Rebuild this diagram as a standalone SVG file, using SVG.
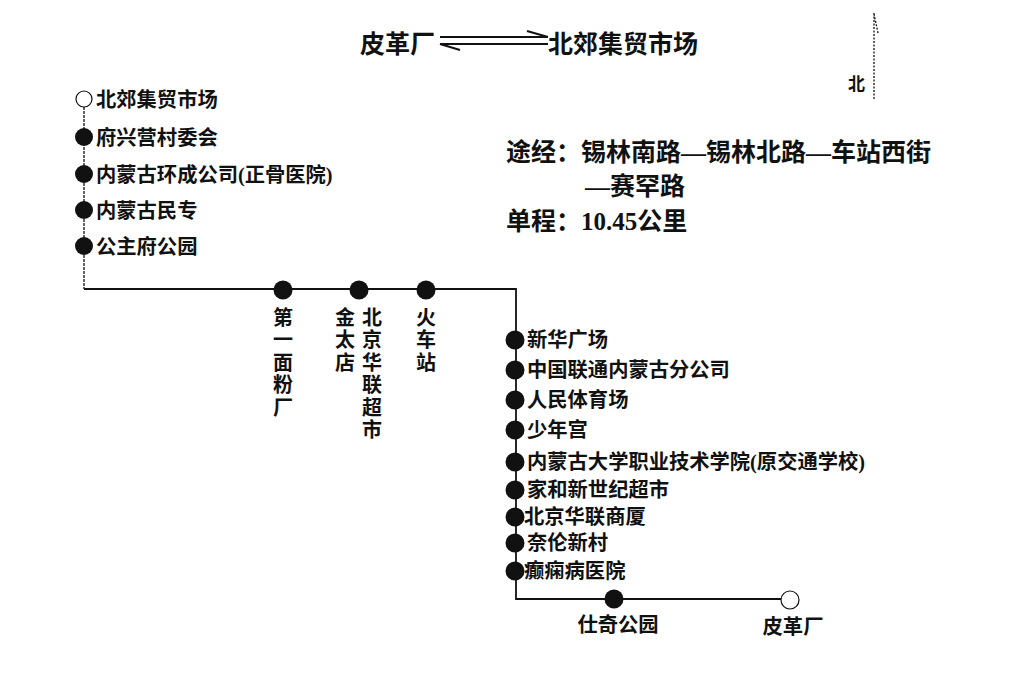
<svg xmlns="http://www.w3.org/2000/svg" width="1012" height="683" viewBox="0 0 1012 683">
<style>
text{font-family:"Liberation Serif","Noto Sans CJK SC",serif;fill:#111;font-weight:bold}
.lbl{font-size:20.3px}
.rl{font-size:20.3px}
.big{font-size:25px}
.v{font-size:20px;text-anchor:middle}
.st{fill:#111}
.open{fill:#fff;stroke:#111;stroke-width:1.2}
.line{stroke:#111;fill:none}
</style>
<rect width="1012" height="683" fill="#fff"/>
<g id="title">
<text class="big" x="360" y="53">皮革厂</text>
<text class="big" x="548" y="53">北郊集贸市场</text>
<path class="line" stroke-width="2" d="M440 37H548M527 31L548 37M440 44H548M440 44L460 50"/>
</g>
<g id="north">
<path class="line" stroke-width="1.3" stroke-dasharray="2 1.5" d="M874 13V100M874 14L878 33"/>
<text x="848" y="90" style="font-size:17px">北</text>
</g>
<g id="info">
<text class="big" x="506" y="161">途经：锡林南路—锡林北路—车站西街</text>
<text class="big" x="585" y="195">—赛罕路</text>
<text class="big" x="506" y="230">单程：10.45公里</text>
</g>
<g id="connectors">
<path class="line" stroke-width="1.3" stroke-dasharray="3 1" d="M84 107V289"/>
<path class="line" stroke-width="1.8" d="M84 289H516V599H781"/>
</g>
<g id="n1"><circle class="open" cx="84" cy="99" r="8"/><text class="lbl" x="96" y="106.5">北郊集贸市场</text></g>
<g id="n2"><circle class="st" cx="84" cy="137" r="9"/><text class="lbl" x="96" y="144.5">府兴营村委会</text></g>
<g id="n3"><circle class="st" cx="84" cy="174" r="9"/><text class="lbl" x="96" y="181.5">内蒙古环成公司(正骨医院)</text></g>
<g id="n4"><circle class="st" cx="84" cy="210" r="9"/><text class="lbl" x="96" y="217.5">内蒙古民专</text></g>
<g id="n5"><circle class="st" cx="84" cy="246" r="9"/><text class="lbl" x="96" y="253.5">公主府公园</text></g>
<g id="n6"><circle class="st" cx="283" cy="290" r="9.5"/><text class="v" x="283" y="324.5"><tspan x="283">第</tspan><tspan x="283" dy="22.5">一</tspan><tspan x="283" dy="22.5">面</tspan><tspan x="283" dy="22.5">粉</tspan><tspan x="283" dy="22.5">厂</tspan></text></g>
<g id="n7"><circle class="st" cx="359" cy="290" r="9.5"/><text class="v" x="345" y="324.5"><tspan x="345">金</tspan><tspan x="345" dy="22.5">太</tspan><tspan x="345" dy="22.5">店</tspan></text><text class="v" x="372" y="324.5"><tspan x="372">北</tspan><tspan x="372" dy="22.5">京</tspan><tspan x="372" dy="22.5">华</tspan><tspan x="372" dy="22.5">联</tspan><tspan x="372" dy="22.5">超</tspan><tspan x="372" dy="22.5">市</tspan></text></g>
<g id="n8"><circle class="st" cx="426" cy="290" r="9.5"/><text class="v" x="426" y="324.5"><tspan x="426">火</tspan><tspan x="426" dy="22.5">车</tspan><tspan x="426" dy="22.5">站</tspan></text></g>
<g id="n9"><circle class="st" cx="515" cy="340" r="9.5"/><text class="rl" x="527" y="347">新华广场</text></g>
<g id="n10"><circle class="st" cx="515" cy="370" r="9.5"/><text class="rl" x="527" y="377">中国联通内蒙古分公司</text></g>
<g id="n11"><circle class="st" cx="515" cy="400" r="9.5"/><text class="rl" x="527" y="407">人民体育场</text></g>
<g id="n12"><circle class="st" cx="515" cy="430" r="9.5"/><text class="rl" x="527" y="437">少年宫</text></g>
<g id="n13"><circle class="st" cx="515" cy="462" r="9.5"/><text class="rl" x="527" y="469">内蒙古大学职业技术学院(原交通学校)</text></g>
<g id="n14"><circle class="st" cx="515" cy="490" r="9.5"/><text class="rl" x="527" y="497">家和新世纪超市</text></g>
<g id="n15"><circle class="st" cx="515" cy="517" r="9.5"/><text class="rl" x="524" y="524">北京华联商厦</text></g>
<g id="n16"><circle class="st" cx="515" cy="543" r="9.5"/><text class="rl" x="527" y="550">奈伦新村</text></g>
<g id="n17"><circle class="st" cx="515" cy="571" r="9.5"/><text class="rl" x="524" y="578">癫痫病医院</text></g>
<g id="n18"><circle class="st" cx="614" cy="599" r="9.5"/><text class="lbl" x="618" y="632" text-anchor="middle">仕奇公园</text></g>
<g id="n19"><circle class="open" cx="790" cy="600" r="9"/><text class="lbl" x="793" y="634" text-anchor="middle">皮革厂</text></g>
</svg>
